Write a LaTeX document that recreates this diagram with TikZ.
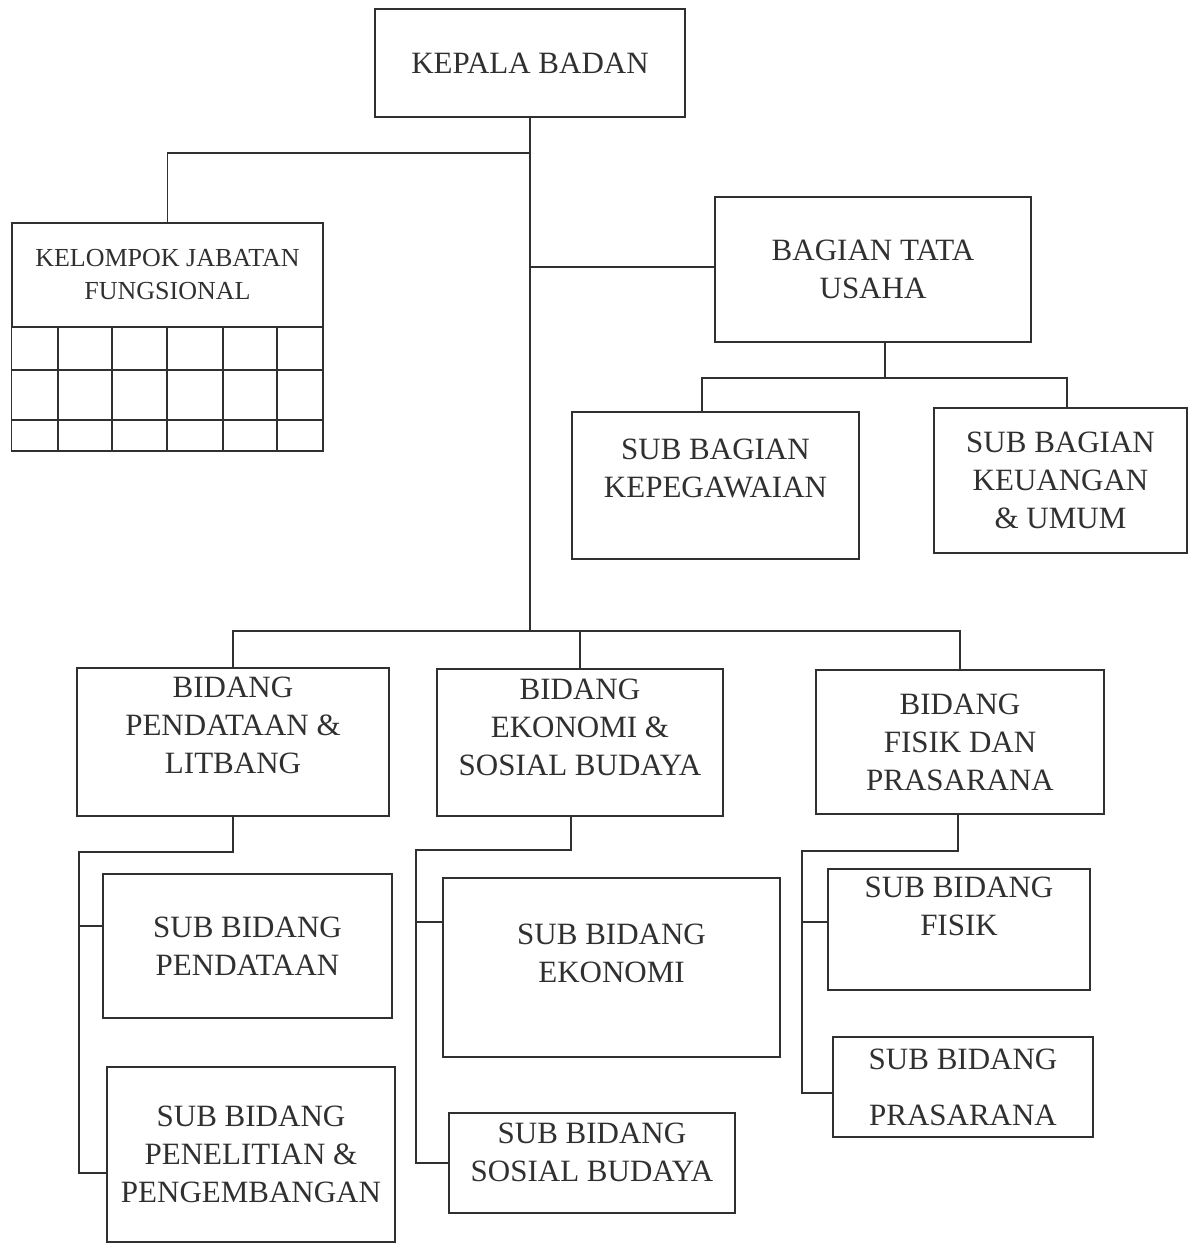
\documentclass[tikz,border=0pt]{standalone}
\usepackage{fontspec}
\setmainfont{Liberation Serif}
\definecolor{inkc}{HTML}{303030}
\tikzset{
  box/.style={draw=inkc, line width=0.6pt, inner sep=2pt, align=center, text=inkc,
    font=\fontsize{15.5}{19}\selectfont},
  conn/.style={draw=inkc, line width=0.6pt},
  lift/.style={text depth=#1},
}
\begin{document}
\begin{tikzpicture}[x=0.5pt, y=-0.5pt]
  \useasboundingbox (0,0) rectangle (1189,1251);
  % top
  \node[box, minimum width=155pt, minimum height=54pt] (kepala) at (530,63) {KEPALA BADAN};
  \node[box, minimum width=155.5pt, minimum height=52pt, font=\fontsize{13}{16.5}\selectfont]
    (kelompok) at (167.5,275) {KELOMPOK JABATAN\\FUNGSIONAL};
  \node[box, minimum width=158pt, minimum height=72.5pt] (tatausaha) at (873,269.5) {BAGIAN TATA\\USAHA};
  \node[box, minimum width=143.5pt, minimum height=73.5pt, lift=17.5pt] (kepeg) at (715.5,485.5) {SUB BAGIAN\\KEPEGAWAIAN};
  \node[box, minimum width=126.5pt, minimum height=72.5pt] (keuangan) at (1060.5,480.5) {SUB BAGIAN\\KEUANGAN\\\& UMUM};
  % bidang
  \node[box, minimum width=156pt, minimum height=74pt, lift=17pt] (bidpend) at (233,742) {BIDANG\\PENDATAAN \&\\LITBANG};
  \node[box, minimum width=143pt, minimum height=73.5pt, lift=15pt] (bideko) at (580,742.5) {BIDANG\\EKONOMI \&\\SOSIAL BUDAYA};
  \node[box, minimum width=144pt, minimum height=72pt] (bidfis) at (960,742) {BIDANG\\FISIK DAN\\PRASARANA};
  % sub bidang
  \node[box, minimum width=144.5pt, minimum height=72pt] (sbpend) at (247.5,946) {SUB BIDANG\\PENDATAAN};
  \node[box, minimum width=144pt, minimum height=87.5pt] (sbpen) at (251,1154.5) {SUB BIDANG\\PENELITIAN \&\\PENGEMBANGAN};
  \node[box, minimum width=168.5pt, minimum height=89.5pt, lift=14pt] (sbeko) at (611.5,967.5) {SUB BIDANG\\EKONOMI};
  \node[box, minimum width=143pt, minimum height=50pt, lift=11pt] (sbsos) at (592,1163) {SUB BIDANG\\SOSIAL BUDAYA};
  \node[box, minimum width=131pt, minimum height=60.5pt, lift=23pt] (sbfis) at (959,929.5) {SUB BIDANG\\FISIK};
  \node[box, minimum width=130pt, minimum height=50pt] (sbpras) at (963,1087) {SUB BIDANG\\[9pt]PRASARANA};

  % table under kelompok
  \draw[conn] (kelompok.south west) rectangle (323,451);
  \foreach \gy in {370,420} \draw[conn] (12,\gy) -- (323,\gy);
  \foreach \gx in {58,112,167,223,277} \draw[conn] (\gx,327) -- (\gx,451);

  \coordinate (kjbus) at (530,153);
  \coordinate (tubus) at (530,267);
  \coordinate (bidbus) at (530,631);
  \coordinate (sbbus) at (885,378);
  \coordinate (pbus) at (79,852);
  \coordinate (ebus) at (416,850);
  \coordinate (fbus) at (802,851);

  \draw[conn] (kepala.south) -- (bidbus);
  \draw[conn] (kjbus) -| (kelompok.north);
  \draw[conn] (tubus) -- (tubus -| tatausaha.west);
  \draw[conn] (tatausaha.south -| sbbus) -- (sbbus);
  \draw[conn] ([xshift=-6.75pt]kepeg.north) |- (sbbus) -| ([xshift=3.25pt]keuangan.north);
  \draw[conn] (bidpend.north) |- (bidbus) -| (bidfis.north);
  \draw[conn] (bideko.north) -- (bideko.north |- bidbus);

  \draw[conn] (bidpend.south) |- (pbus) |- ([yshift=-9.25pt]sbpen.west);
  \draw[conn] (pbus |- sbpend.west) ++(0,-20) -- ([yshift=10pt]sbpend.west);
  \draw[conn] ([xshift=-4.5pt]bideko.south) |- (ebus) |- (sbsos.west);
  \draw[conn] (ebus |- sbeko.west) ++(0,-45.5) -- ([yshift=22.75pt]sbeko.west);
  \draw[conn] ([xshift=-1pt]bidfis.south) |- (fbus) |- ([yshift=-3pt]sbpras.west);
  \draw[conn] (fbus |- sbfis.west) ++(0,-7.5) -- ([yshift=3.75pt]sbfis.west);
\end{tikzpicture}
\end{document}
